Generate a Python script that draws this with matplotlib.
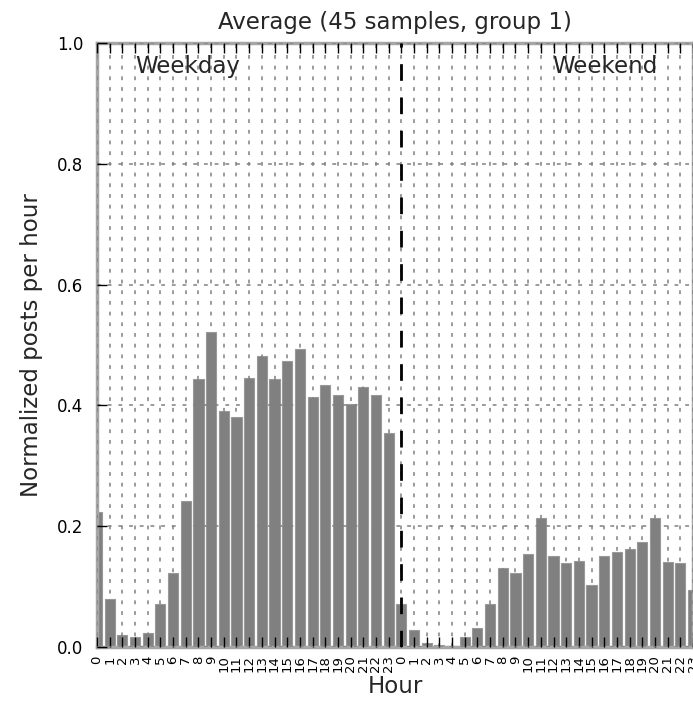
import numpy as np
import matplotlib
matplotlib.use('Agg')
import matplotlib.pyplot as plt

hours = list(range(24))
weekday = [0.223, 0.079, 0.020, 0.016, 0.024, 0.071, 0.122, 0.241,
           0.443, 0.522, 0.391, 0.380, 0.446, 0.482, 0.443, 0.474,
           0.493, 0.414, 0.434, 0.418, 0.403, 0.430, 0.418, 0.355]
weekend = [0.071, 0.028, 0.006, 0.003, 0.002, 0.016, 0.032, 0.071,
           0.130, 0.123, 0.154, 0.213, 0.150, 0.139, 0.142, 0.103,
           0.150, 0.158, 0.162, 0.174, 0.213, 0.141, 0.139, 0.094]
tick_labels = [str(h) for h in hours] * 2

values = weekday + weekend
x = np.arange(len(values))

fig = plt.figure(figsize=(6.93, 7.17), dpi=100)
ax = fig.add_axes([97 / 693, 70 / 717, 1 - 97 / 693, 604 / 717])

ax.bar(x, values, width=0.8, color='0.5', edgecolor='0.6', linewidth=0.8, zorder=1)
ax.axvline(24, color='k', linestyle='--', linewidth=2, dashes=(6, 6), zorder=3)

ax.set_xlim(0, 47)
ax.set_ylim(0, 1.0)
ax.set_xticks(x)
ax.set_xticklabels(tick_labels, rotation=90, fontsize=9.5)
ax.set_yticks([0.0, 0.2, 0.4, 0.6, 0.8, 1.0])
ax.set_yticklabels(['0.0', '0.2', '0.4', '0.6', '0.8', '1.0'], fontsize=12)
ax.tick_params(axis='both', direction='in', length=7, width=1, color='k',
               top=True, right=False)
ax.tick_params(axis='x', pad=6)
ax.tick_params(axis='y', pad=10)

ax.grid(True, color='0.5', linestyle=(0, (2.5, 4.5)), linewidth=1.1, zorder=2)
ax.set_axisbelow(False)

for s in ax.spines.values():
    s.set_color('0.65')
    s.set_linewidth(2.5)

ax.text(3, 0.95, 'Weekday', fontsize=16.5, color='0.15')
ax.text(35.9, 0.95, 'Weekend', fontsize=16.5, color='0.15')

ax.set_title('Average (45 samples, group 1)', fontsize=16.5, pad=10, color='0.15')
ax.set_ylabel('Normalized posts per hour', fontsize=16.5, labelpad=10, color='0.15')
ax.set_xlabel('Hour', fontsize=16.5, labelpad=2, color='0.15')

fig.savefig('out.png', dpi=100, facecolor='white')
